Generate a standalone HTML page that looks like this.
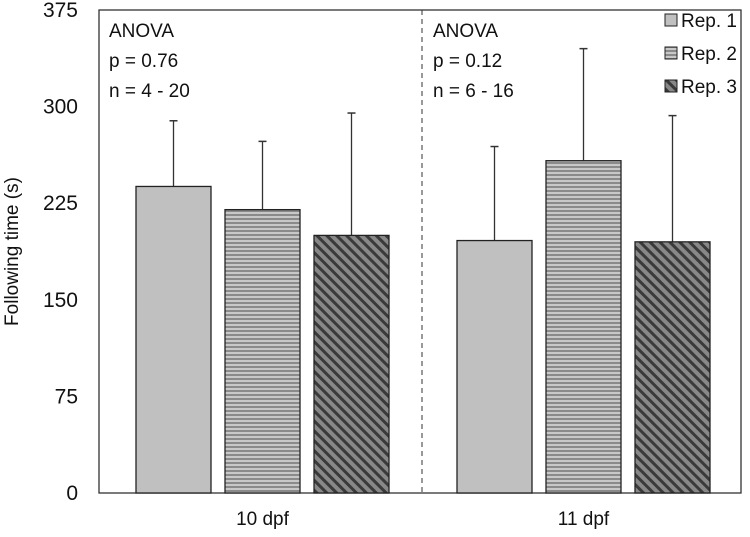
<!DOCTYPE html>
<html><head><meta charset="utf-8"><style>
body{margin:0;background:#fff;}
svg{display:block;font-family:"Liberation Sans",Arial,sans-serif;}
</style></head><body>
<svg id="chart" width="750" height="537" viewBox="0 0 750 537">
<defs>
<pattern id="hstripe" patternUnits="userSpaceOnUse" width="6" height="4"><rect width="6" height="4" fill="#c8c8c8"/><rect y="2" width="6" height="2" fill="#8a8a8a"/></pattern>
<pattern id="diag" patternUnits="userSpaceOnUse" width="7" height="7" patternTransform="rotate(-45)"><rect width="7" height="7" fill="#888"/><rect width="3" height="7" fill="#3a3a3a"/></pattern>
</defs>
<g id="plot"></g>
</svg>
<script>
const categories = ["10 dpf","11 dpf"];
const series = ["Rep. 1","Rep. 2","Rep. 3"];
const rep1 = [238, 196];
const rep2 = [220, 258];
const rep3 = [200, 195];
const err1 = [51, 73];
const err2 = [53, 87];
const err3 = [95, 98];
const yTicks = [0,75,150,225,300,375];
const notes = [["ANOVA","p = 0.76","n = 4 - 20"],["ANOVA","p = 0.12","n = 6 - 16"]];

const L=99,R=741,T=10,B=493,yMax=375;
const y=v=>B-(v/yMax)*(B-T);
const band=(R-L)/categories.length;
const xc=i=>L+band*(i+0.5)+3;
const barW=75, gap=89;
const fills=["#c0c0c0","url(#hstripe)","url(#diag)"];
const vals=[rep1,rep2,rep3], errs=[err1,err2,err3];
const NS="http://www.w3.org/2000/svg";
const g=document.getElementById('plot');
function mk(t,a,txt){const e=document.createElementNS(NS,t);for(const k in a)e.setAttribute(k,a[k]);if(txt!==undefined)e.textContent=txt;g.appendChild(e);return e;}

let frame=mk('rect',{x:L,y:T,width:R-L,height:B-T,fill:'none',stroke:'#333','stroke-width':1.3});


let div=mk('line',{x1:(L+R)/2+2,x2:(L+R)/2+2,y1:T,y2:B,stroke:'#333','stroke-dasharray':'5,4'});


yTicks.forEach(v=>{
  let t=mk('text',{x:78,y:y(v)+7,'text-anchor':'end','font-size':21,fill:'#111'},String(v));
  
  
});
let yt=mk('text',{x:18,y:B-(B-T)/2,'text-anchor':'middle','font-size':19,fill:'#111',transform:`rotate(-90 18 ${(B+T)/2})`},'Following time (s)');


categories.forEach((c,i)=>{
  let t=mk('text',{x:xc(i),y:525,'text-anchor':'middle','font-size':19,fill:'#111'},c);
  
  
  notes[i].forEach((s,j)=>{
    let n=mk('text',{x:L+band*i+10+(i?3:0),y:37+j*30,'font-size':19,fill:'#111'},s);
    
    
  });
  for(let s=0;s<3;s++){
    const cx=xc(i)+(s-1)*gap, v=vals[s][i], e=errs[s][i];
    let el=mk('line',{x1:cx,x2:cx,y1:y(v),y2:y(v+e),stroke:'#333','stroke-width':1.3});
    
    
    let cap=mk('line',{x1:cx-4,x2:cx+4,y1:y(v+e),y2:y(v+e),stroke:'#333','stroke-width':1.5});
    
    
    let b=mk('rect',{x:cx-barW/2,y:y(v),width:barW,height:B-y(v),fill:fills[s],stroke:'#222','stroke-width':1.3});
    
    
  }
});
series.forEach((s,k)=>{
  let sw=mk('rect',{x:665,y:14+k*33,width:12,height:12,fill:fills[k],stroke:'#222','stroke-width':1});
  
  
  let t=mk('text',{x:681,y:27+k*33,'font-size':19,fill:'#111'},s);
  
  
});
</script>
</body></html>
